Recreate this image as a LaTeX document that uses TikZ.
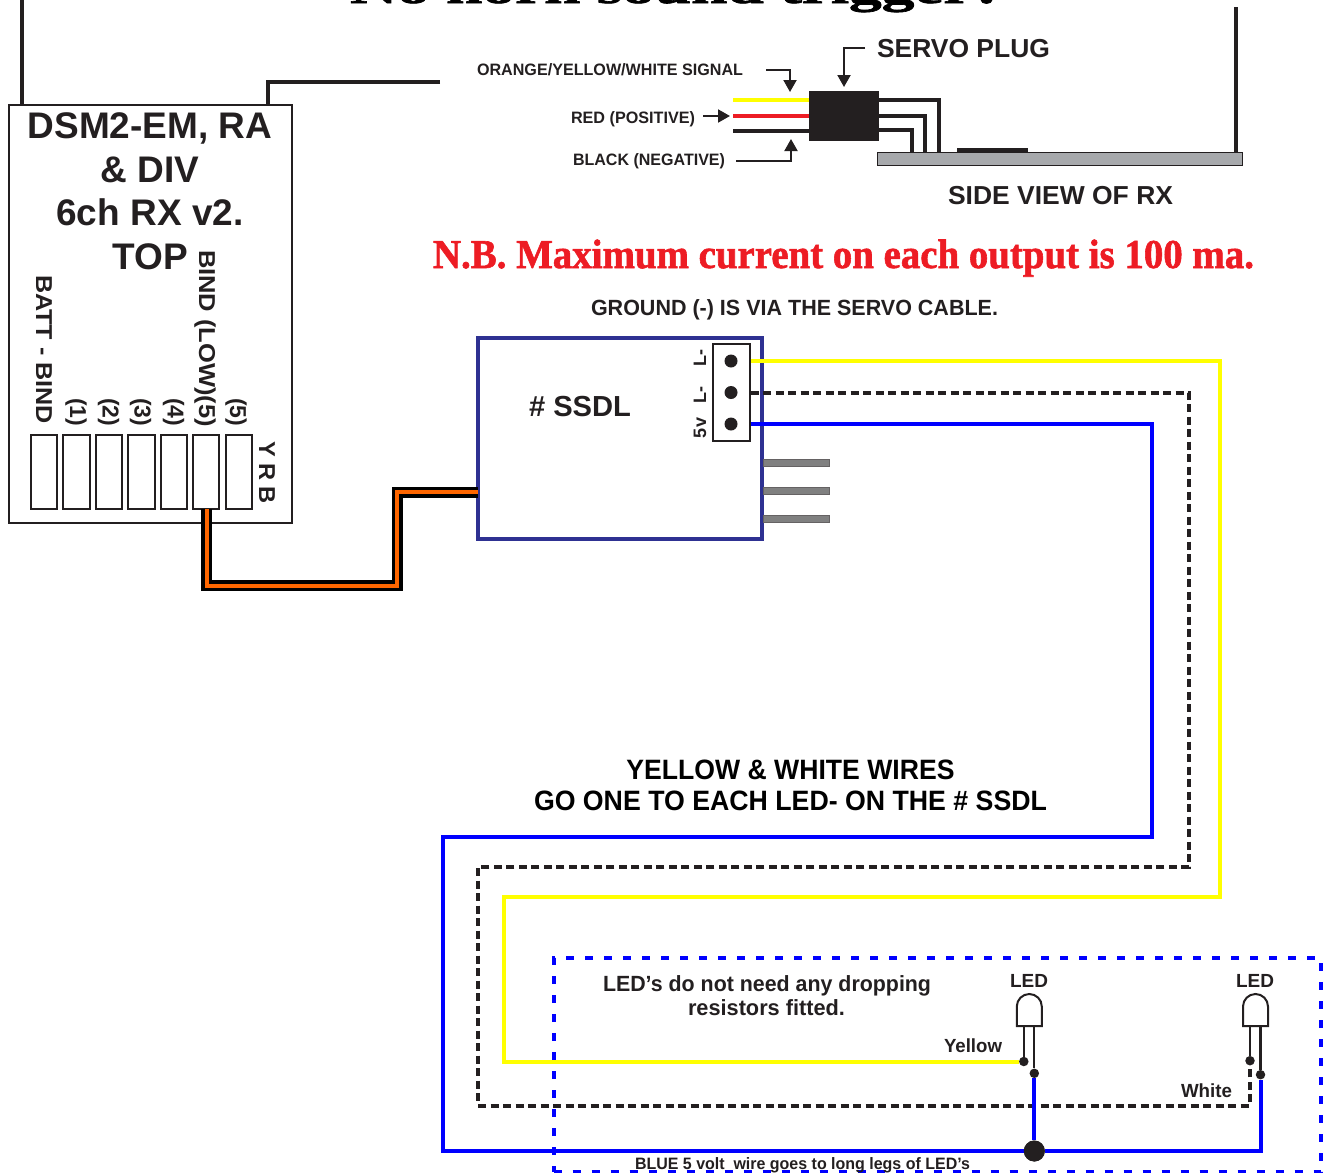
\documentclass[tikz,border=0pt]{standalone}
\usepackage{fontspec}
\usepackage{graphicx}
\setmainfont{Liberation Sans}
\newfontfamily\serifbf{Liberation Serif Bold}[FakeBold=1.5]
\usetikzlibrary{arrows.meta,calc}
\definecolor{ink}{HTML}{231F20}
\definecolor{wireblue}{HTML}{0000FF}
\definecolor{wireyellow}{HTML}{FFFF00}
\definecolor{wirered}{HTML}{ED1C24}
\definecolor{wireorange}{HTML}{FF6600}
\definecolor{ssdlblue}{HTML}{2E3192}
\definecolor{boardgrey}{HTML}{A7A9AC}
\newcommand{\tw}[2]{\resizebox{#1pt}{\height}{#2}}
\newcommand{\fsz}[1]{\fontsize{#1pt}{#1pt}\selectfont\bfseries}
\newcommand{\fsr}[1]{\fontsize{#1pt}{#1pt}\selectfont}
\tikzset{
  lbl/.style={inner sep=0,outer sep=0,anchor=base west,text=ink},
  lblc/.style={inner sep=0,outer sep=0,anchor=base,text=ink},
  rot/.style={inner sep=0,outer sep=0,anchor=base west,text=ink,rotate=-90},
  rotup/.style={inner sep=0,outer sep=0,anchor=base west,text=ink,rotate=90},
  pinbox/.style={draw=ink,line width=1.8pt,fill=white,inner sep=0,minimum width=26.5pt,minimum height=74pt},
  wire/.style={line width=4pt,miter limit=10},
  dashwire/.style={draw=ink,line width=4pt,dash pattern=on 8pt off 4.5pt},
  arrowline/.style={draw=ink,line width=2pt,-{Triangle[length=12pt,width=13pt]}},
  blackline/.style={draw=ink,line width=4pt},
  dotnode/.style={circle,fill=ink,inner sep=0},
  greypin/.style={draw=ink!70!white,line width=.8pt,fill=black!50,inner sep=0,minimum width=66pt,minimum height=6.5pt},
  ledbody/.style={draw=ink,line width=2pt,fill=white},
  legline/.style={draw=ink,line width=2.2pt},
}
\begin{document}
\begin{tikzpicture}[x=1pt,y=-1pt]
\useasboundingbox (0,0) rectangle (1323,1173);
\clip (0,0) rectangle (1323,1173);
% title clipped by page edge
\node[lbl,text=black] (title) at (350,3) {\tw{655}{\serifbf\fsr{42}No horn sound trigger?}};
% receiver
\coordinate (antA) at (22,0);
\coordinate (antB) at (440,82);
\node[draw=ink,line width=2pt,inner sep=0,minimum width=283pt,minimum height=418pt] (rx) at (150.5,314) {};
\draw[blackline] (antA) -- (antA |- rx.north);
\draw[blackline] (antB) -- (268,82) -- (268,105);
\foreach \n/\t/\y in {a/{DSM2-EM, RA}/138.5,b/{\& DIV}/182,c/{6ch RX v2.}/225,d/{TOP}/269}{
  \node[lblc,font=\fsz{37}] (rxt\n) at (150,\y) {\t};
}
\foreach \n/\x in {0/44,1/76.5,2/109,3/141.5,4/174,5/206,6/239}{
  \node[pinbox] (pin\n) at (\x,472) {};
}
\node[rot,font=\fsz{23}] (lbatt) at (36,275) {\tw{149}{BATT - BIND}};
\foreach \x/\t in {70/1,102.5/2,134.5/3,167.5/4}{
  \node[rot,font=\fsz{23}] (lp\t) at (\x,398) {(\t)};
}
\node[rot,font=\fsz{23}] (lbind) at (199,250) {\tw{177}{BIND (LOW)(5)}};
\node[rot,font=\fsz{23}] (lp5) at (230,398) {(5)};
\node[rot,font=\fsz{23}] (lyrb) at (259,441) {\tw{63}{Y R B}};
% SSDL
\node[draw=ssdlblue,line width=3.5pt,inner sep=0,minimum width=284pt,minimum height=201pt] (ssdl) at (620,438.5) {};
\node[draw=ink,line width=1.6pt,fill=white,inner sep=0,minimum width=37pt,minimum height=97pt] (hdr) at (731.3,392.5) {};
\node[dotnode,minimum size=13pt] (p1) at (731,361) {};
\node[dotnode,minimum size=13pt] (p2) at (731,392.5) {};
\node[dotnode,minimum size=13pt] (p3) at (731,424) {};
\node[rotup,font=\fsz{18}] (ll1) at (706,366) {L-};
\node[rotup,font=\fsz{18}] (ll2) at (706,403) {L-};
\node[rotup,font=\fsz{18}] (l5v) at (706,438) {5v};
\node[lbl,font=\fsz{29}] (lssdl) at (529,416) {\tw{102}{\# SSDL}};
\foreach \n/\y in {1/463,2/491,3/519}{
  \node[greypin,anchor=west] (g\n) at (763,\y) {};
}
% orange bind wire
\coordinate (oa) at (206.5,509);
\coordinate (ob) at (478,492);
\draw[line width=11pt,black,line join=miter] (oa) -- (206.5,585.5) -- (397,585.5) -- (397,492) -- (ob);
\draw[line width=4pt,wireorange,line join=miter] (oa) -- (206.5,585.5) -- (397,585.5) -- (397,492) -- (ob);
% servo side view
\node[draw=ink,line width=1.2pt,fill=boardgrey,inner sep=0,minimum width=365pt,minimum height=12.5pt] (board) at (1060,159) {};
\node[fill=ink,inner sep=0,minimum width=71pt,minimum height=5pt,anchor=south] (chip) at (992,153) {};
\coordinate (antC) at (1236,7);
\draw[draw=ink,line width=3.5pt] (antC) -- (antC |- board.north);
\node[fill=ink,inner sep=0,minimum width=70pt,minimum height=50pt] (plug) at (844,115.5) {};
\coordinate (wy) at (733,100);
\coordinate (wr) at (733,115.5);
\coordinate (wb) at (733,130.5);
\draw[wire,wireyellow] (wy) -- (wy -| plug.west);
\draw[wire,wirered] (wr) -- (wr -| plug.west);
\draw[wire,ink] (wb) -- (wb -| plug.west);
\draw[blackline] (plug.east |- 0,99.5) -- (938.5,99.5) -- (938.5,153);
\draw[blackline] (plug.east |- 0,115.5) -- (924.5,115.5) -- (924.5,153);
\draw[blackline] (plug.east |- 0,130) -- (912,130) -- (912,153);
\node[lbl,font=\fsz{26}] (lservo) at (877,57) {\tw{173}{SERVO PLUG}};
\node[lbl,font=\fsz{16.5}] (lorange) at (477,75) {\tw{266}{ORANGE/YELLOW/WHITE SIGNAL}};
\node[lbl,font=\fsz{16.5}] (lred) at (571,123) {\tw{124}{RED (POSITIVE)}};
\node[lbl,font=\fsz{16.5}] (lblack) at (573,165) {\tw{152}{BLACK (NEGATIVE)}};
\node[lbl,font=\fsz{26}] (lside) at (948,204) {\tw{225}{SIDE VIEW OF RX}};
\coordinate (aoS) at (766,69.5);
\coordinate (aoE) at (790,92);
\coordinate (asS) at (865,48);
\coordinate (asE) at (844,87);
\coordinate (arS) at (703,116);
\coordinate (arE) at (730,116);
\coordinate (abS) at (736,161);
\coordinate (abE) at (791,139);
\draw[arrowline] (aoS) -| (aoE);
\draw[arrowline] (asS) -| (asE);
\draw[arrowline] (arS) -- (arE);
\draw[arrowline] (abS) -| (abE);
% notes
\node[lbl,text=wirered] (lnb) at (433,268) {\tw{821}{\serifbf\fsr{41}N.B. Maximum current on each output is 100 ma.}};
\node[lbl,font=\fsz{22}] (lground) at (591,315) {\tw{407}{GROUND (-) IS VIA THE SERVO CABLE.}};
\node[lblc,font=\fsz{28},text=black] (lyw1) at (790.5,779) {\tw{328}{YELLOW \& WHITE WIRES}};
\node[lblc,font=\fsz{28},text=black] (lyw2) at (790.5,810) {\tw{513}{GO ONE TO EACH LED- ON THE \# SSDL}};
% LEDs
\newcommand{\ledshape}[1]{%
  \draw[ledbody] (#1-12.5,1026) -- (#1-12.5,1006.5) arc[start angle=180,end angle=360,radius=12.5] -- (#1+12.5,1026) -- cycle;
}
\ledshape{1029.3}
\ledshape{1255.5}
\coordinate (bodyA) at (1029.3,1026);
\coordinate (bodyB) at (1255.5,1026);
\node[dotnode,minimum size=9.5pt] (la1) at (1023.8,1061.5) {};
\node[dotnode,minimum size=9.5pt] (la2) at (1034.3,1073.3) {};
\node[dotnode,minimum size=9.5pt] (lb1) at (1250,1060.7) {};
\node[dotnode,minimum size=9.5pt] (lb2) at (1260.5,1074.7) {};
\node[dotnode,minimum size=21pt] (junction) at (1034.3,1151) {};
\draw[legline] (la1) -- (la1 |- bodyA);
\draw[legline] (la2) -- (la2 |- bodyA);
\draw[legline] (lb1) -- (lb1 |- bodyB);
\draw[legline] (lb2) -- (lb2 |- bodyB);
% long wires
\draw[wire,wireyellow] (hdr.east |- p1) -- (1220,361) -- (1220,897) -- (504,897) -- (504,1061.5) -- (la1);
\draw[dashwire] (hdr.east |- p2) -- (1189,392.5) -- (1189,867) -- (478,867) -- (478,1105.5) -- (1250,1105.5) -- (lb1);
\draw[wire,wireblue] (hdr.east |- p3) -- (1152,424) -- (1152,837) -- (443,837) -- (443,1151) -- (junction);
\draw[wire,wireblue] (junction) -- (la2);
\draw[wire,wireblue] (junction) -- (1260.5,1151) -- (lb2);
\node[dotnode,minimum size=21pt] (junctiontop) at (junction) {};
% blue dashed frame
\node[draw=wireblue,line width=4pt,dash pattern=on 8pt off 11pt,inner sep=0,minimum width=767.5pt,minimum height=214pt] (frame) at (937.3,1065) {};
% led labels
\node[lblc,font=\fsz{19}] (lleda) at (1029,987) {LED};
\node[lblc,font=\fsz{19}] (lledb) at (1255,987) {LED};
\node[lbl,font=\fsz{19}] (lyel) at (944,1052) {\tw{58}{Yellow}};
\node[lbl,font=\fsz{19}] (lwhi) at (1181,1097) {\tw{51}{White}};
\node[lbl,font=\fsz{22}] (lnote1) at (603,991) {\tw{328}{LED’s do not need any dropping}};
\node[lbl,font=\fsz{22}] (lnote2) at (688,1015) {\tw{157}{resistors fitted.}};
\node[lbl,font=\fsz{16.5}] (lbl5) at (635,1169) {\tw{335}{BLUE 5 volt\ \ wire goes to long legs of LED’s}};
\end{tikzpicture}
\end{document}
